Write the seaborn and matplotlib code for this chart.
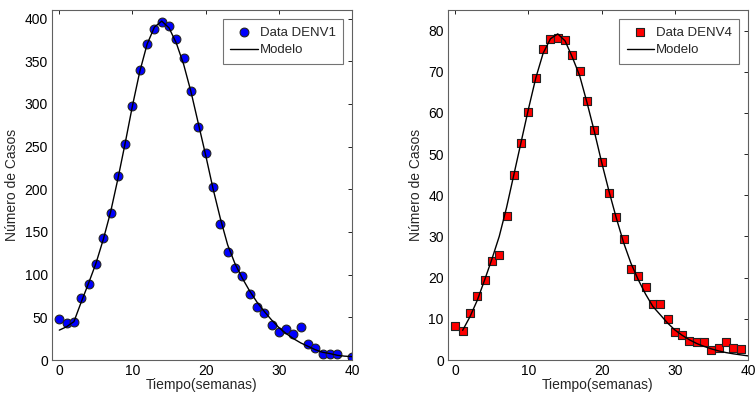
import numpy as np
import pandas as pd
import matplotlib
matplotlib.use("Agg")
import matplotlib.pyplot as plt
import seaborn as sns

# ---- data ----
weeks1 = [0, 1, 2, 3, 4, 5, 6, 7, 8, 9, 10, 11, 12, 13, 14, 15, 16, 17, 18, 19,
          20, 21, 22, 23, 24, 25, 26, 27, 28, 29, 30, 31, 32, 33, 34, 35, 36, 37, 38, 40]
denv1 = [47.7, 43.4, 44, 73, 89.5, 113, 143, 172.7, 215, 253, 297, 340, 370, 388, 396,
         391, 376, 354, 315, 273, 243, 203, 159, 127, 108, 98.4, 77.7, 62.5, 55.5, 40.6,
         32.4, 36, 30.9, 38.7, 18.8, 14, 7, 7, 7.4, 3.1]
model_weeks1 = list(range(0, 41))
model1 = [35, 39, 45, 68, 90, 113, 141, 173, 212, 254, 298, 338, 370, 390, 397, 389,
          371, 346, 314, 277, 240, 201, 166, 135, 113, 96, 81, 68, 57, 47, 38, 31, 25,
          20, 16, 12, 9, 7.5, 5.5, 4.5, 4]

weeks4 = list(range(0, 40))
denv4 = [8.2, 7.0, 11.4, 15.5, 19.5, 24.1, 25.6, 34.9, 45.0, 52.6, 60.2, 68.4, 75.6,
         77.9, 78.1, 77.7, 74.0, 70.2, 62.8, 55.8, 48.2, 40.5, 34.7, 29.3, 22.1, 20.3,
         17.8, 13.5, 13.5, 10.0, 6.8, 6.0, 4.6, 4.4, 4.4, 2.4, 3.0, 4.4, 2.9, 2.6]
model_weeks4 = list(range(1, 41))
model4 = [7.2, 10.5, 14.5, 19.4, 24.5, 30, 37, 45, 53, 61, 68.5, 74.5, 78, 79.2, 77.5,
          73.5, 69, 62.5, 55.5, 48, 41, 34.5, 28.5, 23.5, 19.5, 16, 13, 11, 9, 7.3, 6,
          4.9, 4.0, 3.3, 2.7, 2.2, 1.8, 1.5, 1.25, 1.0]

xticks = [0, 10, 20, 30, 40]
yticks1 = [0, 50, 100, 150, 200, 250, 300, 350, 400]
yticks4 = [0, 10, 20, 30, 40, 50, 60, 70, 80]

sns.set_style("white")
plt.rcParams['font.family'] = ['Liberation Sans', 'DejaVu Sans']

W, H = 755, 395
fig = plt.figure(figsize=(W / 100, H / 100), dpi=100)
ax1 = fig.add_axes([52 / W, 35 / H, 300 / W, 350 / H])
ax2 = fig.add_axes([448 / W, 35 / H, 300 / W, 350 / H])

df1 = pd.DataFrame({"t": weeks1, "y": denv1})
dm1 = pd.DataFrame({"t": model_weeks1, "y": model1})
df4 = pd.DataFrame({"t": weeks4, "y": denv4})
dm4 = pd.DataFrame({"t": model_weeks4, "y": model4})


def style(ax, ylim, yticks):
    ax.set_xlim(-1, 40)
    ax.set_ylim(*ylim)
    ax.set_xticks(xticks)
    ax.set_yticks(yticks)
    ax.tick_params(direction="in", length=3, width=0.6, top=True, right=True,
                   labelsize=10, colors="#000000", pad=3)
    for s in ax.spines.values():
        s.set_color("#606060")
        s.set_linewidth(0.8)
    ax.set_xlabel("Tiempo(semanas)", fontsize=10, labelpad=0)
    ax.set_ylabel("Número de Casos", fontsize=10, labelpad=4)


sns.lineplot(data=dm1, x="t", y="y", ax=ax1, color="black", linewidth=1.0,
             label="Modelo", zorder=3)
sns.scatterplot(data=df1, x="t", y="y", ax=ax1, marker="o", s=40, color="#0000FF",
                edgecolor="#222222", linewidth=0.8, label="Data DENV1", zorder=2)
style(ax1, (0, 410), yticks1)

sns.lineplot(data=dm4, x="t", y="y", ax=ax2, color="black", linewidth=1.0,
             label="Modelo", zorder=3)
sns.scatterplot(data=df4, x="t", y="y", ax=ax2, marker="s", s=32, color="#FF0000",
                edgecolor="#222222", linewidth=0.8, label="Data DENV4", zorder=2)
style(ax2, (0, 85), yticks4)

for ax in (ax1, ax2):
    h, l = ax.get_legend_handles_labels()
    leg = ax.legend(h[::-1], l[::-1], loc="upper right", fontsize=9.5, frameon=True,
                    fancybox=False, edgecolor="#505050", borderpad=0.55,
                    handlelength=2.1, handletextpad=0.1, labelspacing=0.4,
                    borderaxespad=0.7)
    leg.get_frame().set_linewidth(0.8)

fig.savefig("out.png", dpi=100)
